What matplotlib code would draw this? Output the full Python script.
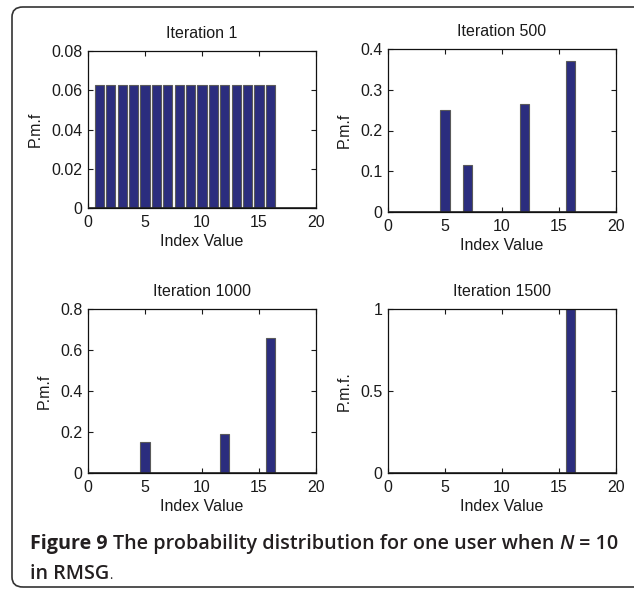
import matplotlib
matplotlib.use("Agg")
import matplotlib.pyplot as plt
from matplotlib.patches import FancyBboxPatch
import numpy as np

# ---- data ----
index_values = list(range(1, 17))
pmf_iter1 = [0.0625] * 16
pmf_iter500 = [0, 0, 0, 0, 0.25, 0, 0.115, 0, 0, 0, 0, 0.265, 0, 0, 0, 0.37]
pmf_iter1000 = [0, 0, 0, 0, 0.15, 0, 0, 0, 0, 0, 0, 0.19, 0, 0, 0, 0.66]
pmf_iter1500 = [0, 0, 0, 0, 0, 0, 0, 0, 0, 0, 0, 0, 0, 0, 0, 1.0]

titles = ["Iteration 1", "Iteration 500", "Iteration 1000", "Iteration 1500"]
ylabels = ["P.m.f", "P.m.f", "P.m.f", "P.m.f."]
yticks = [[0, 0.02, 0.04, 0.06, 0.08], [0, 0.1, 0.2, 0.3, 0.4],
          [0, 0.2, 0.4, 0.6, 0.8], [0, 0.5, 1]]
yticklabels = [["0", "0.02", "0.04", "0.06", "0.08"], ["0", "0.1", "0.2", "0.3", "0.4"],
               ["0", "0.2", "0.4", "0.6", "0.8"], ["0", "0.5", "1"]]
xticks = [0, 5, 10, 15, 20]
series = [pmf_iter1, pmf_iter500, pmf_iter1000, pmf_iter1500]

W, H = 634, 589
fig = plt.figure(figsize=(W / 100, H / 100), dpi=100)
plt.rcParams['font.family'] = ['Liberation Sans', 'DejaVu Sans']

# border box
box = FancyBboxPatch((12 / W, 2 / H), (660 - 12) / W, (582 - 2) / H,
                     boxstyle="round,pad=0,rounding_size=0.017",
                     transform=fig.transFigure, fill=False, ec="#333333", lw=1.2)
fig.patches.append(box)

# axes pixel rectangles: left, right, top, bottom
rects = [(88, 316, 51, 208), (388, 616, 49, 212), (88, 316, 309, 473), (388, 616, 309, 473)]

bar_color = "#2B2D7E"
for k, (l, r, t, b) in enumerate(rects):
    ax = fig.add_axes([l / W, 1 - b / H, (r - l) / W, (b - t) / H])
    ax.bar(index_values, series[k], width=0.8, color=bar_color, edgecolor="#5a5a5a", lw=0.8, zorder=2)
    ax.axhline(0, color="#222222", lw=1.2, zorder=3)
    ax.set_xlim(0, 20)
    ax.set_ylim(yticks[k][0], yticks[k][-1])
    ax.set_xticks(xticks)
    ax.set_xticklabels([str(v) for v in xticks])
    ax.set_yticks(yticks[k])
    ax.set_yticklabels(yticklabels[k])
    ax.tick_params(direction="in", top=True, right=True, length=3.5, width=0.8,
                   labelsize=11.5, colors="#1a1a1a")
    ax.tick_params(axis="x", pad=5)
    ax.tick_params(axis="y", pad=4)
    for s in ax.spines.values():
        s.set_linewidth(0.9)
        s.set_color("#111111")
    ax.set_title(titles[k], fontsize=11.5, pad=9, color="#1a1a1a")
    ax.set_xlabel("Index Value", fontsize=11.5, labelpad=3, color="#1a1a1a")
    ax.set_ylabel(ylabels[k], fontsize=11.5, labelpad=6, color="#1a1a1a")

# caption
renderer = fig.canvas.get_renderer()
cap_color = "#231F20"
capfont = ['Open Sans', 'DejaVu Sans']
cap_size = 14.2
pieces = [("Figure 9 ", "bold", "normal"),
          ("The probability distribution for one user when ", "semibold", "normal"),
          ("N", "semibold", "italic"),
          (" = 10", "semibold", "normal")]
x = 30 / W
y1 = 1 - 549 / H
for txt, wt, st in pieces:
    t = fig.text(x, y1, txt, fontsize=cap_size, fontweight=wt, fontstyle=st,
                 family=capfont, color=cap_color, va="baseline", ha="left")
    bb = t.get_window_extent(renderer=renderer)
    x = bb.x1 / W
t2 = fig.text(30 / W, 1 - 579 / H, "in RMSG", fontsize=cap_size, fontweight="semibold",
              family=capfont, color=cap_color, va="baseline", ha="left")
bb = t2.get_window_extent(renderer=renderer)
fig.text(bb.x1 / W, 1 - 579 / H, ".", fontsize=9, family=capfont, color=cap_color,
         va="baseline", ha="left")

fig.savefig("out.png", dpi=100)
